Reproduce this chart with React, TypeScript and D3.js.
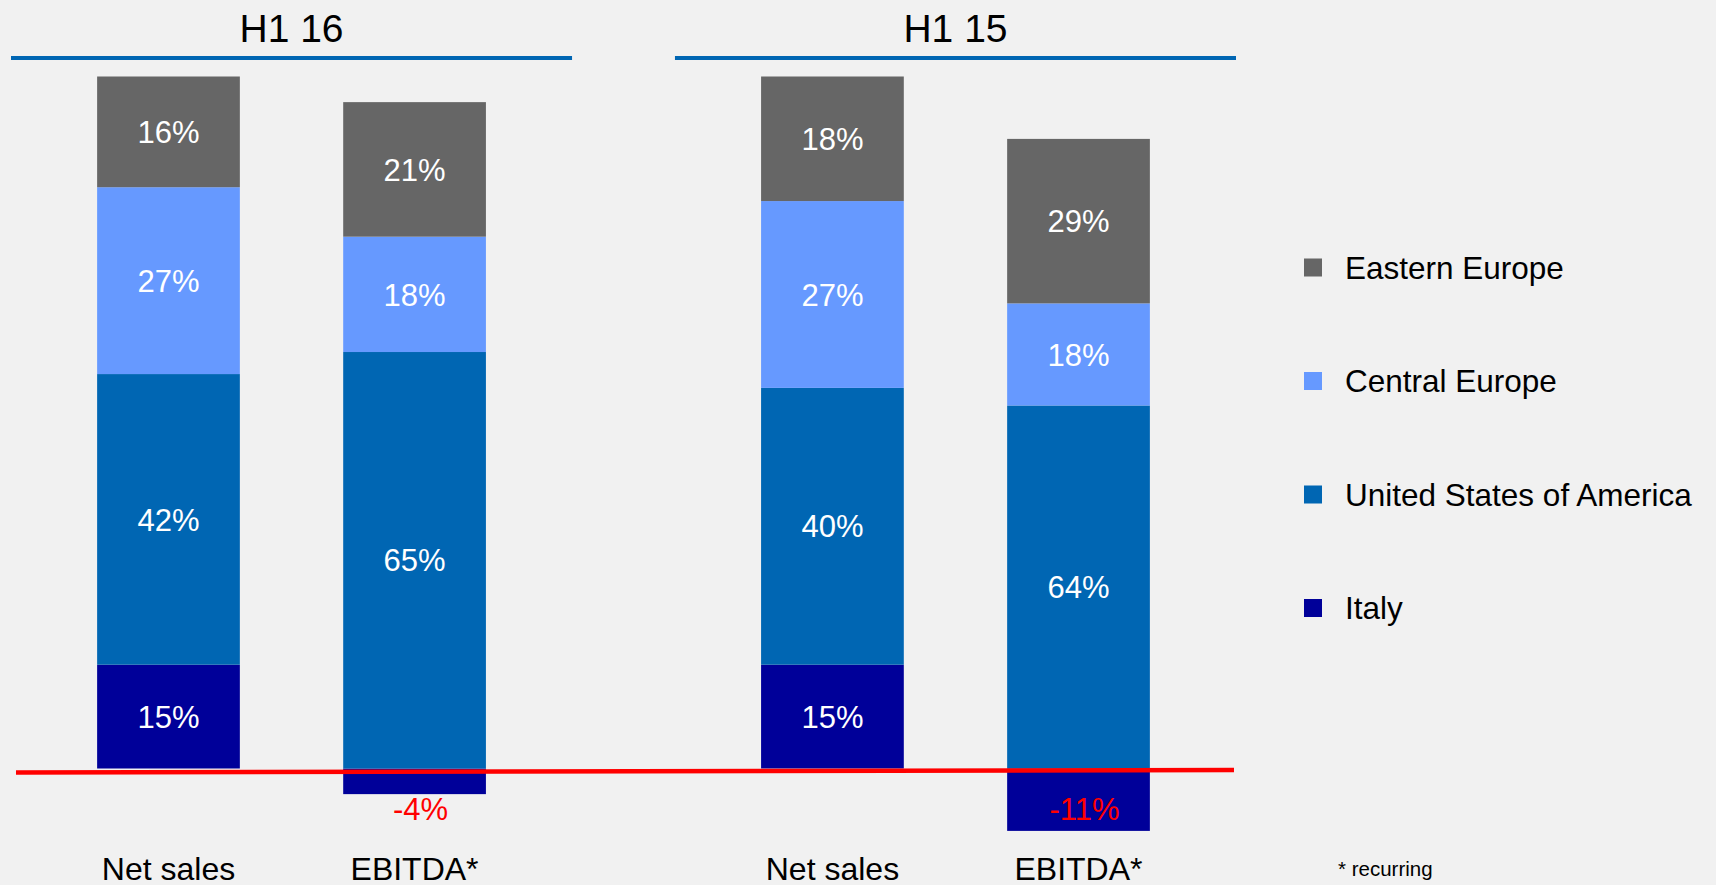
import React, { useEffect, useRef } from 'react';
import * as d3 from 'd3';

// bars, left to right
const periods = ["H1 16", "H1 15"];
const measures = ["Net sales", "EBITDA*"];

// regional shares (%) per bar: H1 16 Net sales, H1 16 EBITDA*, H1 15 Net sales, H1 15 EBITDA*
const italy = [15, -4, 15, -11];
const usa = [42, 65, 40, 64];
const centralEurope = [27, 18, 27, 18];
const easternEurope = [16, 21, 18, 29];

const regions = ["Italy", "United States of America", "Central Europe", "Eastern Europe"];
const regionColors = ["#000099", "#0066B3", "#6699FF", "#666666"];
const legendOrder = ["Eastern Europe", "Central Europe", "United States of America", "Italy"];

const App: React.FC = () => {
    const svgRef = useRef<SVGSVGElement | null>(null);

    useEffect(() => {
        const svg = d3.select(svgRef.current);
        svg.selectAll("*").remove();

        const width = 1716;
        const height = 885;
        const font = "'Liberation Sans', Arial, sans-serif";
        const zeroY = 768.5;
        const barSpan = 692;

        svg.append("rect")
            .attr("width", width)
            .attr("height", height)
            .attr("fill", "#F1F1F1");

        // one row per bar, values normalised by the sum of absolute shares
        const series = [italy, usa, centralEurope, easternEurope];
        const rows = periods.flatMap((p, pi) => measures.map((m, mi) => {
            const idx = pi * 2 + mi;
            const raw: Record<string, number> = {};
            regions.forEach((r, ri) => { raw[r] = series[ri][idx]; });
            const total = d3.sum(regions, r => Math.abs(raw[r]));
            const row: any = { period: p, measure: m, raw };
            regions.forEach(r => { row[r] = raw[r] / total; });
            return row;
        }));

        const stacked = d3.stack<any>()
            .keys(regions)
            .offset(d3.stackOffsetDiverging)(rows);

        const xGroup = d3.scaleBand()
            .domain(periods)
            .range([11, 1236])
            .paddingInner(0.155);

        const xBar = d3.scaleBand()
            .domain(measures)
            .range([0, xGroup.bandwidth()])
            .paddingInner(0.42)
            .paddingOuter(0.35);

        const y = d3.scaleLinear()
            .domain([0, 1])
            .range([zeroY, zeroY - barSpan]);

        const color = d3.scaleOrdinal<string>().domain(regions).range(regionColors);
        const barX = (d: any) => xGroup(d.period)! + xBar(d.measure)!;

        // group titles and blue rules
        const groups = svg.append("g");
        groups.selectAll("text")
            .data(periods)
            .enter()
            .append("text")
            .attr("x", d => xGroup(d)! + xGroup.bandwidth() / 2)
            .attr("y", 42)
            .attr("text-anchor", "middle")
            .attr("font-family", font)
            .attr("font-size", 39)
            .attr("fill", "#000")
            .text(d => d);
        groups.selectAll("rect")
            .data(periods)
            .enter()
            .append("rect")
            .attr("x", d => xGroup(d)!)
            .attr("y", 56)
            .attr("width", xGroup.bandwidth())
            .attr("height", 4)
            .attr("fill", "#0066B3");

        // stacked bars
        svg.append("g")
            .selectAll("g")
            .data(stacked)
            .enter()
            .append("g")
            .attr("fill", d => color(d.key))
            .selectAll("rect")
            .data(d => d)
            .enter()
            .append("rect")
            .attr("x", d => barX(d.data))
            .attr("y", d => y(Math.max(d[0], d[1])))
            .attr("width", xBar.bandwidth())
            .attr("height", d => Math.abs(y(d[0]) - y(d[1])));

        // value labels
        const labels = stacked.flatMap(s => s.map(d => ({
            key: s.key,
            value: d.data.raw[s.key] as number,
            x: barX(d.data) + xBar.bandwidth() / 2,
            mid: (y(d[0]) + y(d[1])) / 2,
        })));
        svg.append("g")
            .selectAll("text")
            .data(labels)
            .enter()
            .append("text")
            .attr("x", d => d.value < 0 ? d.x + 6 : d.x)
            .attr("y", d => d.value < 0 ? zeroY + 40 : d.mid)
            .attr("dy", "0.36em")
            .attr("text-anchor", "middle")
            .attr("font-family", font)
            .attr("font-size", 31)
            .attr("fill", d => d.value < 0 ? "#FF0000" : "#FFFFFF")
            .text(d => `${d.value}%`);

        // zero line
        svg.append("line")
            .attr("x1", 16)
            .attr("x2", 1234)
            .attr("y1", zeroY + 4)
            .attr("y2", zeroY + 1.5)
            .attr("stroke", "#FF0000")
            .attr("stroke-width", 4.5);

        // category labels
        svg.append("g")
            .selectAll("text")
            .data(rows)
            .enter()
            .append("text")
            .attr("x", d => barX(d) + xBar.bandwidth() / 2)
            .attr("y", 880)
            .attr("text-anchor", "middle")
            .attr("font-family", font)
            .attr("font-size", 32)
            .attr("fill", "#000")
            .text(d => d.measure);

        // legend
        const ly = d3.scalePoint().domain(legendOrder).range([267.5, 608]);
        const legend = svg.append("g")
            .selectAll("g")
            .data(legendOrder)
            .enter()
            .append("g")
            .attr("transform", d => `translate(1304,${ly(d)})`);
        legend.append("rect")
            .attr("x", 0)
            .attr("y", -9)
            .attr("width", 18)
            .attr("height", 18)
            .attr("fill", d => color(d));
        legend.append("text")
            .attr("x", 41)
            .attr("y", 0)
            .attr("dy", "0.36em")
            .attr("font-family", font)
            .attr("font-size", 31.5)
            .attr("fill", "#000")
            .text(d => d);

        svg.append("text")
            .attr("x", 1338)
            .attr("y", 876)
            .attr("font-family", font)
            .attr("font-size", 20.5)
            .attr("fill", "#000")
            .text("* recurring");
    }, []);

    return <svg ref={svgRef} width={1716} height={885} style={{ position: 'absolute', left: 0, top: 0 }}></svg>;
};

export default App;
